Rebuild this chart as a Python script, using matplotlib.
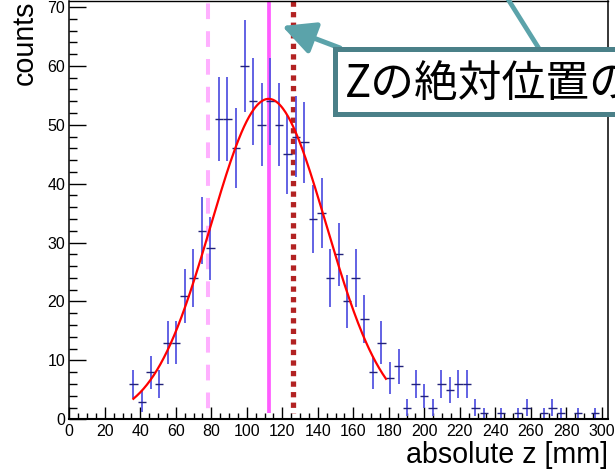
import numpy as np
import matplotlib.pyplot as plt
from matplotlib.patches import Rectangle, FancyArrowPatch
from matplotlib.lines import Line2D
from matplotlib.ticker import MultipleLocator

W, H = 615, 469

# histogram binning of the absolute z position
z_max = 303.5
n_bins = 63
counts = [0, 0, 0, 0, 0, 0, 0,
          6, 3, 8, 6, 13, 13, 21, 24, 32, 29,
          51, 51, 46, 60, 54, 50, 54, 50, 45, 48,
          47, 34, 35, 24, 28, 20, 24, 17, 8, 13,
          7, 9, 2, 6, 4, 2, 6, 5, 6, 6,
          2, 1, 0, 1, 0, 1, 2, 0, 1, 2,
          1, 0, 1, 0, 1, 0]

# gaussian fit drawn over its fit range
fit_amp, fit_mean, fit_sigma = 54.4, 112.3, 32.5
fit_lo, fit_hi = 36.1, 178.4

# reference positions [mm]
dashed_z = 78.0
solid_z = 112.5
dotted_z = 125.9
line_bottom = 1.0

y_max = 71.1
x_label = "absolute z [mm]"
y_label = "counts"
box_text = "Zの絶対位置の"

plt.rcParams['font.family'] = ['Liberation Sans', 'DejaVu Sans']


def px(x, y):
    """pixel position (from top-left) -> figure fraction"""
    return (x / W, 1 - y / H)


fig = plt.figure(figsize=(W / 100, H / 100), dpi=100)
left, right, top, bottom = 69.3, 608.0, 0.5, 419.3
ax = fig.add_axes([left / W, 1 - bottom / H, (right - left) / W, (bottom - top) / H])

counts = np.array(counts, dtype=float)
edges = np.linspace(0, z_max, n_bins + 1)
centers = 0.5 * (edges[:-1] + edges[1:])
filled = counts > 0
err = np.sqrt(counts)

# reference lines
ax.plot([dashed_z, dashed_z], [y_max, line_bottom], color='#ffb0ff', lw=2.9,
        linestyle=(6.3, (3.9, 3.0)), solid_capstyle='butt', zorder=1)
ax.plot([solid_z, solid_z], [y_max, line_bottom], color='#ff5cff', lw=2.7,
        solid_capstyle='butt', zorder=1)
ax.plot([dotted_z, dotted_z], [y_max, line_bottom], color='#b22222', lw=3.8,
        linestyle=(0, (1, 1)), dash_capstyle='butt', zorder=1)

# histogram points with errors
ax.vlines(centers[filled], (counts - err)[filled], (counts + err)[filled],
          color='#5656e2', lw=1.3, zorder=2)
ax.hlines(counts[filled], edges[:-1][filled], edges[1:][filled],
          color='#22227a', lw=1.0, zorder=3)

# fit curve
zf = np.linspace(fit_lo, fit_hi, 300)
ax.plot(zf, fit_amp * np.exp(-0.5 * ((zf - fit_mean) / fit_sigma) ** 2),
        color='red', lw=1.6, zorder=4)

ax.set_xlim(0, z_max)
ax.set_ylim(0, y_max)
ax.xaxis.set_major_locator(MultipleLocator(20))
ax.xaxis.set_minor_locator(MultipleLocator(5))
ax.yaxis.set_major_locator(MultipleLocator(10))
ax.yaxis.set_minor_locator(MultipleLocator(2))
ax.tick_params(axis='both', which='both', direction='in', top=False, right=False,
               width=1.0, labelsize=11.5)
ax.tick_params(axis='x', which='major', length=8.4, pad=3.5)
ax.tick_params(axis='x', which='minor', length=4.3)
ax.tick_params(axis='y', which='major', length=12, pad=3)
ax.tick_params(axis='y', which='minor', length=6)

ax.spines['bottom'].set_linewidth(1.5)
ax.spines['left'].set_linewidth(1.1)
ax.spines['top'].set_linewidth(1.0)
ax.spines['right'].set_linewidth(1.1)

ax.set_xlabel(x_label, fontsize=20.6, ha='right', va='baseline')
ax.xaxis.set_label_coords(1.0, -(463 - bottom) / (bottom - top))
ax.set_ylabel(y_label, fontsize=20.6, ha='right', va='baseline',
              rotation=90, rotation_mode='anchor')
ax.yaxis.set_label_coords((33 - left) / (right - left), (bottom - 1.0) / (bottom - top))

# callout box with arrows
teal = '#5ba3aa'
fig.add_artist(Line2D([px(538, 47)[0], px(496, -20)[0]], [px(538, 47)[1], px(496, -20)[1]],
                      transform=fig.transFigure, color=teal, lw=3.4, zorder=5))
fig.add_artist(FancyArrowPatch(px(340, 48), px(282, 26), transform=fig.transFigure,
                               arrowstyle='-|>,head_length=20,head_width=10',
                               mutation_scale=1, shrinkA=0, shrinkB=0,
                               color=teal, lw=3.6, zorder=5))
x0, y0 = px(334.5, 114.5)
x1, y1 = px(660, 49.2)
fig.add_artist(Rectangle((x0, y0), x1 - x0, y1 - y0, transform=fig.transFigure,
                         facecolor='white', edgecolor='#4a8088', lw=3.6, zorder=6))
fig.text(*px(345, 97), box_text, fontsize=31.5, family=['Noto Sans CJK JP'],
         ha='left', va='baseline', color='black', zorder=7)

fig.savefig('out.png', dpi=100)
